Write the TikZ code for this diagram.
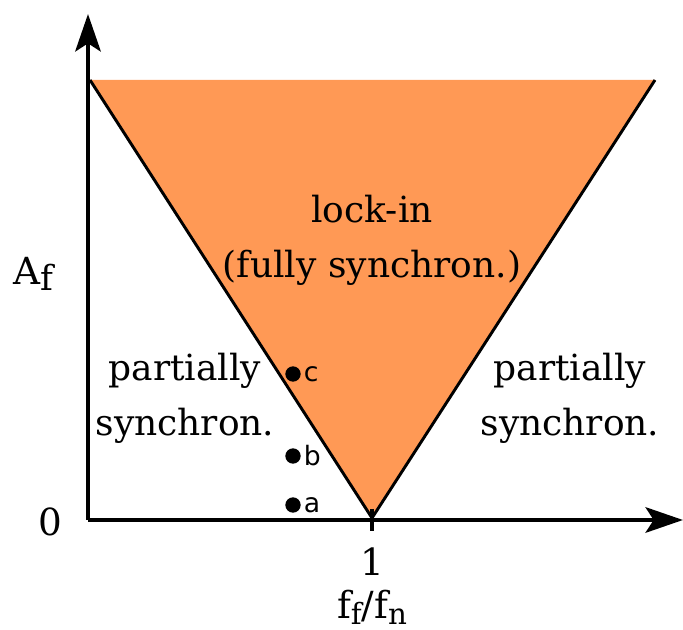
\documentclass[tikz,border=0pt]{standalone}
\usepackage{fontspec}
\setmainfont{DejaVu Serif}
\newfontfamily\labelfont{DejaVu Sans}
\usetikzlibrary{arrows.meta,positioning}
\definecolor{LockOrange}{HTML}{FF9955}
\tikzset{
  axis/.style={line width=3.6pt, -{Stealth[length=28pt,width=19pt,inset=6pt]}},
  edge/.style={line width=2.2pt, draw=black},
  region/.style={font=\fontsize{27}{41}\selectfont, align=center, inner sep=0pt},
  ticklabel/.style={font=\fontsize{28}{30}\selectfont, inner sep=0pt},
  point/.style={circle, fill=black, minimum size=11.5pt, inner sep=0pt},
  pointlabel/.style={font=\labelfont\fontsize{20}{22}\selectfont, inner sep=0pt, right=2pt}
}
\begin{document}
\begin{tikzpicture}[x=0.75pt,y=-0.75pt]
  \useasboundingbox (0,0) rectangle (683,630);
  % lock-in region
  \coordinate (tl) at (90,80);
  \coordinate (tr) at (655,80);
  \coordinate (tip) at (372,518);
  \fill[LockOrange] (tl) -- (tr) -- (tip) -- cycle;
  \draw[edge] (tl) -- (tip) -- (tr);
  % axes
  \coordinate (origin) at (88,520);
  \coordinate (ytop) at (88,14);
  \coordinate (xend) at (683,520);
  \draw[axis] (origin) -- (ytop);
  \draw[axis] (origin) -- (xend);
  \coordinate (tick1) at (372,509);
  \coordinate (tick2) at (372,531);
  \draw[line width=3.6pt] (tick1) -- (tick2);
  % labels
  \node[ticklabel] (one) at (372,562) {1};
  \node[ticklabel] (xlab) at (372,607) {f\raisebox{-0.3ex}{\fontsize{22}{22}\selectfont f}/f\raisebox{-0.3ex}{\fontsize{22}{22}\selectfont n}};
  \node[ticklabel] (zero) at (50,522) {0};
  \node[ticklabel] (ylab) at (33,274) {A\raisebox{-0.35ex}{\fontsize{26}{26}\selectfont f}};
  \node[region] (lock) at (372,240) {lock-in\\(fully synchron.)};
  \node[region] (partL) at (185,398) {partially\\synchron.};
  \node[region] (partR) at (570,398) {partially\\synchron.};
  % operating points
  \node[point] (pc) at (293,374) {};
  \node[point] (pb) at (293,456) {};
  \node[point] (pa) at (293,505) {};
  \node[pointlabel] at (pc.east) {c};
  \node[pointlabel] at (pb.east) {b};
  \node[pointlabel] at (pa.east) {a};
\end{tikzpicture}
\end{document}
